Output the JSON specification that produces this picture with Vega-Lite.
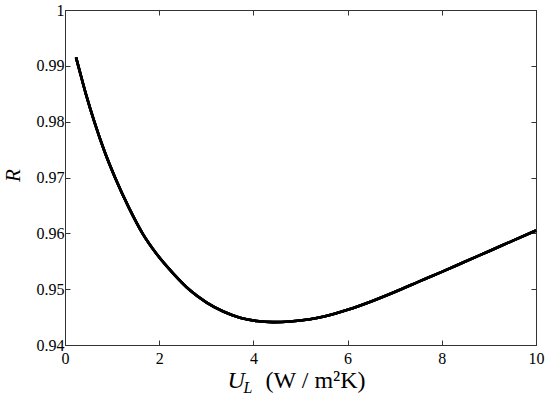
{
  "$schema": "https://vega.github.io/schema/vega-lite/v6.json",
  "width": 471,
  "height": 335,
  "autosize": {"type": "none"},
  "padding": {"left": 65, "top": 10, "right": 14, "bottom": 54},
  "background": "white",
  "config": {
    "view": {"stroke": "#333333", "strokeWidth": 1},
    "axis": {
      "grid": false,
      "labelFont": "Liberation Serif",
      "labelFontSize": 16,
      "labelColor": "black",
      "titleFont": "Liberation Serif",
      "titleColor": "black",
      "titleFontWeight": "normal",
      "domainColor": "#333333",
      "tickColor": "#333333",
      "tickSize": -5,
      "tickWidth": 1
    }
  },
  "data": {
    "values": [
      {"UL": 0.234, "R": 0.9915},
      {"UL": 0.282, "R": 0.99},
      {"UL": 0.452, "R": 0.9847},
      {"UL": 0.622, "R": 0.98},
      {"UL": 0.842, "R": 0.9746},
      {"UL": 1.062, "R": 0.97},
      {"UL": 1.356, "R": 0.9646},
      {"UL": 1.645, "R": 0.96},
      {"UL": 1.946, "R": 0.9563},
      {"UL": 2.3, "R": 0.9528},
      {"UL": 2.654, "R": 0.9498},
      {"UL": 3.008, "R": 0.9476},
      {"UL": 3.361, "R": 0.946},
      {"UL": 3.715, "R": 0.9449},
      {"UL": 4.07, "R": 0.9443},
      {"UL": 4.42, "R": 0.9441},
      {"UL": 4.777, "R": 0.9442},
      {"UL": 5.2, "R": 0.9446},
      {"UL": 5.5, "R": 0.9451},
      {"UL": 6.0, "R": 0.9463},
      {"UL": 6.5, "R": 0.9478},
      {"UL": 7.0, "R": 0.9495},
      {"UL": 7.5, "R": 0.9513},
      {"UL": 8.0, "R": 0.9531},
      {"UL": 8.5, "R": 0.95495},
      {"UL": 9.0, "R": 0.9568},
      {"UL": 9.5, "R": 0.95865},
      {"UL": 10.0, "R": 0.9605}
    ]
  },
  "layer": [
    {
      "mark": {"type": "line", "color": "black", "strokeWidth": 2.6, "interpolate": "monotone"},
      "encoding": {
        "x": {
          "field": "UL", "type": "quantitative",
          "scale": {"domain": [0, 10], "nice": false, "zero": false},
          "axis": {
            "orient": "bottom",
            "values": [0, 2, 4, 6, 8, 10],
            "labelPadding": 10,
            "labelFlush": false,
            "title": "(W / m²K)",
            "titleFontSize": 24,
            "titleAnchor": "start",
            "titleAlign": "left",
            "titleBaseline": "alphabetic",
            "titleX": 200,
            "titleY": 42
          }
        },
        "y": {
          "field": "R", "type": "quantitative",
          "scale": {"domain": [0.94, 1], "nice": false, "zero": false},
          "axis": {
            "orient": "left",
            "values": [0.94, 0.95, 0.96, 0.97, 0.98, 0.99, 1],
            "format": ".2~f",
            "labelPadding": 6,
            "labelFlush": false,
            "title": "R",
            "titleFontSize": 21,
            "titleFontStyle": "italic",
            "titleAngle": 270,
            "titleAlign": "center",
            "titleBaseline": "alphabetic",
            "titleX": -46,
            "titleY": 165
          }
        }
      }
    },
    {
      "mark": {"type": "line", "color": "black", "strokeWidth": 2.6, "interpolate": "monotone"},
      "encoding": {
        "x": {
          "field": "UL", "type": "quantitative",
          "scale": {"domain": [0, 10], "nice": false, "zero": false},
          "axis": {"orient": "top", "values": [0, 2, 4, 6, 8, 10], "labels": false, "title": null}
        },
        "y": {
          "field": "R", "type": "quantitative",
          "scale": {"domain": [0.94, 1], "nice": false, "zero": false},
          "axis": {"orient": "right", "values": [0.94, 0.95, 0.96, 0.97, 0.98, 0.99, 1], "labels": false, "title": null}
        }
      }
    },
    {
      "mark": {"type": "line", "color": "black", "strokeWidth": 2.6, "interpolate": "monotone"},
      "encoding": {
        "x": {
          "field": "UL", "type": "quantitative",
          "scale": {"domain": [0, 10], "nice": false, "zero": false},
          "axis": {
            "orient": "bottom", "domain": false, "ticks": false, "labels": false,
            "title": "U",
            "titleFontSize": 24,
            "titleFontStyle": "italic",
            "titleAnchor": "start",
            "titleAlign": "left",
            "titleBaseline": "alphabetic",
            "titleX": 162,
            "titleY": 42
          }
        },
        "y": {"field": "R", "type": "quantitative", "scale": {"domain": [0.94, 1], "nice": false, "zero": false}, "axis": null}
      }
    },
    {
      "mark": {"type": "line", "color": "black", "strokeWidth": 2.6, "interpolate": "monotone"},
      "encoding": {
        "x": {
          "field": "UL", "type": "quantitative",
          "scale": {"domain": [0, 10], "nice": false, "zero": false},
          "axis": {
            "orient": "bottom", "domain": false, "ticks": false, "labels": false,
            "title": "L",
            "titleFontSize": 16,
            "titleFontStyle": "italic",
            "titleAnchor": "start",
            "titleAlign": "left",
            "titleBaseline": "alphabetic",
            "titleX": 178,
            "titleY": 47
          }
        },
        "y": {"field": "R", "type": "quantitative", "scale": {"domain": [0.94, 1], "nice": false, "zero": false}, "axis": null}
      }
    }
  ],
  "resolve": {"axis": {"x": "independent", "y": "independent"}}
}
